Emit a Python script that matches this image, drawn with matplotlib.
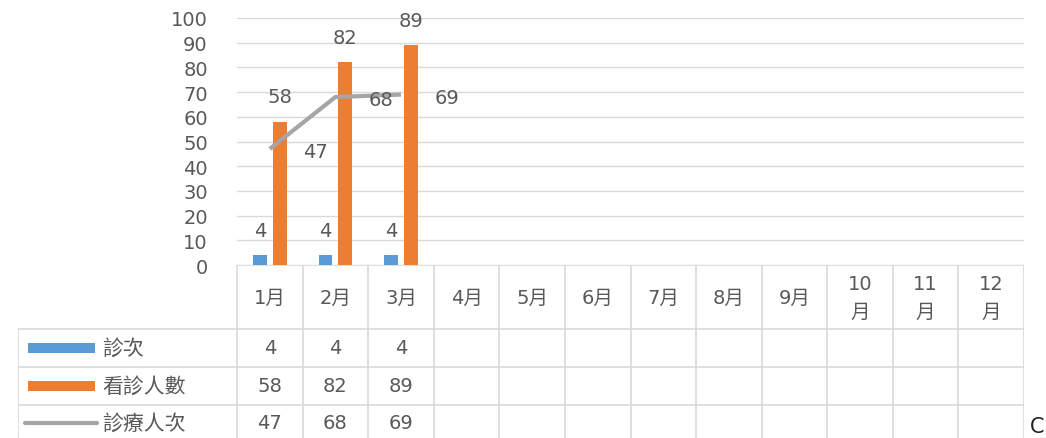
import matplotlib.pyplot as plt
import numpy as np

plt.rcParams['font.family'] = ['DejaVu Sans', 'Noto Sans CJK TC']

months = ['1月', '2月', '3月', '4月', '5月', '6月', '7月', '8月', '9月', '10\n月', '11\n月', '12\n月']
visits = [4, 4, 4]          # 診次
patients = [58, 82, 89]     # 看診人數
treated = [47, 68, 69]      # 診療人次
series_names = ['診次', '看診人數', '診療人次']

blue = '#5B9BD5'
orange = '#ED7D31'
gray = '#A5A5A5'
txt = '#595959'
grid = '#D9D9D9'
fs = 14

W, H = 1046, 439
fig = plt.figure(figsize=(W / 100, H / 100), dpi=100)

# plot area in pixel coords
x0, x1, ytop, ybot = 237, 1024, 19, 266
ax = fig.add_axes([x0 / W, (H - ybot) / H, (x1 - x0) / W, (ybot - ytop) / H])
ax.set_xlim(0, 12)
ax.set_ylim(0, 100)
for s in ax.spines.values():
    s.set_visible(False)
ax.set_yticks(np.arange(0, 101, 10))
ax.yaxis.grid(True, color=grid, lw=1)
ax.set_axisbelow(True)
ax.tick_params(axis='y', length=0, labelsize=fs, labelcolor=txt, pad=21)
ax.set_xticks([])

n = len(visits)
xc = np.arange(n) + 0.5
bw = 0.21
ax.bar(xc - 0.15, visits, bw, color=blue, zorder=2)
ax.bar(xc + 0.15, patients, bw, color=orange, zorder=2)
ax.plot(xc, treated, color=gray, lw=3, zorder=3, solid_capstyle='butt')

for i in range(n):
    ax.annotate(str(visits[i]), (xc[i] - 0.15, visits[i]), xytext=(0, 18),
                textcoords='offset points', ha='center', va='center', fontsize=fs, color=txt)
    ax.annotate(str(patients[i]), (xc[i] + 0.15, patients[i]), xytext=(0, 18),
                textcoords='offset points', ha='center', va='center', fontsize=fs, color=txt)
    ax.annotate(str(treated[i]), (xc[i], treated[i]), xytext=(33, -2),
                textcoords='offset points', ha='center', va='center', fontsize=fs, color=txt,
                zorder=4)

# data table below, in pixel-ish coords
tl = 18
colw = (x1 - x0) / 12
xl = -(x0 - tl) / colw
tab = fig.add_axes([tl / W, 0, (x1 - tl) / W, (H - ybot) / H])
tab.set_xlim(xl, 12)
tab.set_ylim(H, ybot)
tab.axis('off')

rows = [ybot, 330, 368, 406, H]
lc = '#D9D9D9'
tab.plot([0, 12], [ybot, ybot], color=lc, lw=1.2)
for yy in rows[1:4]:
    tab.plot([xl, 12], [yy, yy], color=lc, lw=1.2)
for k in range(13):
    tab.plot([k, k], [ybot, H], color=lc, lw=1.2)
tab.plot([xl, xl], [330, H], color=lc, lw=1.2)

for k, m in enumerate(months):
    if '\n' in m:
        top, bot = m.split('\n')
        tab.text(k + 0.5, 285, top, ha='center', va='center', fontsize=fs, color=txt)
        tab.text(k + 0.5, 312, bot, ha='center', va='center', fontsize=fs, color=txt)
    else:
        tab.text(k + 0.5, 298, m, ha='center', va='center', fontsize=fs, color=txt)

row_vals = [visits, patients, treated]
row_mid = [349, 387, 424]
for r in range(3):
    for i, v in enumerate(row_vals[r]):
        tab.text(i + 0.5, row_mid[r], str(v), ha='center', va='center', fontsize=fs, color=txt)
    tab.text(xl + (102 - tl) / colw, row_mid[r], series_names[r], ha='left', va='center',
             fontsize=15, color=txt)

# legend keys
kx0 = xl + (28 - tl) / colw
kx1 = xl + (95 - tl) / colw
tab.fill_between([kx0, kx1], 344, 354, color=blue, lw=0)
tab.fill_between([kx0, kx1], 382, 392, color=orange, lw=0)
tab.plot([xl + (25 - tl) / colw, xl + (97 - tl) / colw], [424, 424], color=gray, lw=3,
         solid_capstyle='round')

fig.text(1030 / W, 1 - 427 / H, 'C', fontsize=15, color='#222222', ha='left', va='center')

fig.savefig('out.png', dpi=100)
